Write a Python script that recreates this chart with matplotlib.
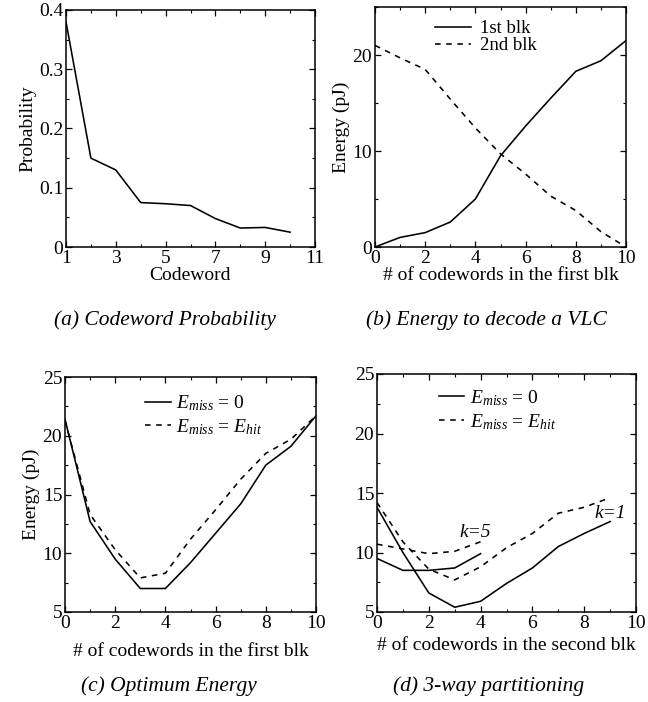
import numpy as np
import matplotlib
matplotlib.use("Agg")
import matplotlib.pyplot as plt
import matplotlib.ticker as mticker

plt.rcParams['font.family'] = ['Liberation Serif', 'DejaVu Serif']
plt.rcParams['mathtext.fontset'] = 'custom'
plt.rcParams['mathtext.rm'] = 'Liberation Serif'
plt.rcParams['mathtext.it'] = 'Liberation Serif:italic'
plt.rcParams['font.size'] = 14

# ===============================
# DATA
# ===============================

# (a) codeword probability
codeword = [1, 2, 3, 4, 5, 6, 7, 8, 9, 10]
prob = [0.38, 0.15, 0.13, 0.075, 0.073, 0.070, 0.048, 0.032, 0.033, 0.025]
codeword_ticks = [1, 3, 5, 7, 9, 11]

# (b) energy to decode a VLC
n_first = [0, 1, 2, 3, 4, 5, 6, 7, 8, 9, 10]
e_blk1 = [0.0, 1.0, 1.5, 2.6, 5.0, 9.5, 12.6, 15.5, 18.3, 19.4, 21.5]
e_blk2 = [21.0, 19.7, 18.5, 15.4, 12.4, 9.7, 7.6, 5.3, 3.8, 1.6, 0.0]

# (c) optimum energy
e_opt_nomiss = [21.4, 12.7, 9.5, 7.0, 7.0, 9.2, 11.7, 14.2, 17.5, 19.1, 21.7]
e_opt_miss = [21.3, 13.3, 10.3, 7.9, 8.3, 11.2, 13.7, 16.3, 18.5, 19.7, 21.7]

# (d) 3-way partitioning
n_second_k1 = [0, 1, 2, 3, 4, 5, 6, 7, 8, 9]
k1_nomiss = [13.8, 10.0, 6.6, 5.4, 5.9, 7.4, 8.7, 10.5, 11.6, 12.6]
k1_miss = [14.2, 10.9, 8.6, 7.7, 8.8, 10.4, 11.6, 13.3, 13.8, 14.6]
n_second_k5 = [0, 1, 2, 3, 4]
k5_nomiss = [9.5, 8.5, 8.5, 8.7, 9.9]
k5_miss = [10.7, 10.3, 9.9, 10.1, 10.9]

DASH = (0, (3.5, 3.5))
LW = 1.15
W, H = 648, 702


def place(left, right, top, bottom):
    return [left / W, 1 - bottom / H, (right - left) / W, (bottom - top) / H]


def style(ax):
    for s in ax.spines.values():
        s.set_linewidth(1.1)
    ax.tick_params(which='both', direction='in', top=True, right=True)
    ax.tick_params(which='major', length=4, width=0.9, pad=2, labelsize=14)
    ax.tick_params(which='minor', length=2.5, width=0.8)


fig = plt.figure(figsize=(6.48, 7.02), dpi=100)

# ---------- (a) ----------
ax = fig.add_axes(place(66, 315, 10, 247))
ax.plot(codeword, prob, color='black', lw=LW)
ax.set_xlim(1, 11)
ax.set_ylim(0, 0.4)
ax.set_xticks(codeword_ticks)
ax.xaxis.set_minor_locator(mticker.MultipleLocator(1))
ax.yaxis.set_major_locator(mticker.MultipleLocator(0.1))
ax.yaxis.set_minor_locator(mticker.MultipleLocator(0.05))
ax.yaxis.set_major_formatter(mticker.FuncFormatter(lambda v, _: "0" if v == 0 else f"{v:.1f}"))
ax.set_ylabel("Probability", labelpad=2)
ax.set_xlabel("Codeword", labelpad=0)
style(ax)

# ---------- (b) ----------
ax = fig.add_axes(place(375, 626, 7, 247))
ax.plot(n_first, e_blk1, color='black', lw=LW, label="1st blk")
ax.plot(n_first, e_blk2, color='black', lw=LW, ls=DASH, label="2nd blk")
ax.set_xlim(0, 10)
ax.set_ylim(0, 25)
ax.xaxis.set_major_locator(mticker.MultipleLocator(2))
ax.xaxis.set_minor_locator(mticker.MultipleLocator(1))
ax.yaxis.set_major_locator(mticker.MultipleLocator(10))
ax.yaxis.set_minor_locator(mticker.MultipleLocator(5))
ax.set_ylabel("Energy (pJ)", labelpad=2)
ax.set_xlabel("# of codewords in the first blk", labelpad=0)
ax.legend(loc='upper left', bbox_to_anchor=(0.24, 0.945), frameon=False,
          fontsize=13.5, handlelength=1.9, handletextpad=0.5,
          labelspacing=0.0, borderpad=0, borderaxespad=0)
style(ax)

# ---------- (c) ----------
ax = fig.add_axes(place(65, 316, 377, 612))
ax.plot(n_first, e_opt_nomiss, color='black', lw=LW, label=r"$E_{miss}$ = $\mathit{0}$")
ax.plot(n_first, e_opt_miss, color='black', lw=LW, ls=DASH, label=r"$E_{miss}$ = $E_{hit}$")
ax.set_xlim(0, 10)
ax.set_ylim(5, 25)
ax.xaxis.set_major_locator(mticker.MultipleLocator(2))
ax.xaxis.set_minor_locator(mticker.MultipleLocator(1))
ax.yaxis.set_major_locator(mticker.MultipleLocator(5))
ax.yaxis.set_minor_locator(mticker.MultipleLocator(2.5))
ax.set_ylabel("Energy (pJ)", labelpad=2)
ax.set_xlabel("# of codewords in the first blk", labelpad=8)
ax.legend(loc='upper left', bbox_to_anchor=(0.32, 0.93), frameon=False,
          fontsize=14, handlelength=1.3, handletextpad=0.3,
          labelspacing=0.2, borderpad=0, borderaxespad=0)
style(ax)

# ---------- (d) ----------
ax = fig.add_axes(place(377, 636, 374, 612))
ax.plot(n_second_k1, k1_nomiss, color='black', lw=LW, label=r"$E_{miss}$ = $\mathit{0}$")
ax.plot(n_second_k1, k1_miss, color='black', lw=LW, ls=DASH, label=r"$E_{miss}$ = $E_{hit}$")
ax.plot(n_second_k5, k5_nomiss, color='black', lw=LW)
ax.plot(n_second_k5, k5_miss, color='black', lw=LW, ls=DASH)
ax.text(3.8, 11.7, "k=5", style='italic', ha='center', va='center', fontsize=14)
ax.text(9.6, 13.3, "k=1", style='italic', ha='right', va='center', fontsize=14)
ax.set_xlim(0, 10)
ax.set_ylim(5, 25)
ax.xaxis.set_major_locator(mticker.MultipleLocator(2))
ax.xaxis.set_minor_locator(mticker.MultipleLocator(1))
ax.yaxis.set_major_locator(mticker.MultipleLocator(5))
ax.yaxis.set_minor_locator(mticker.MultipleLocator(2.5))
ax.set_xlabel("# of codewords in the second blk", labelpad=4)
ax.legend(loc='upper left', bbox_to_anchor=(0.24, 0.94), frameon=False,
          fontsize=14, handlelength=1.3, handletextpad=0.3,
          labelspacing=0.2, borderpad=0, borderaxespad=0)
style(ax)

# ---------- captions ----------
cap = dict(ha='center', va='center', style='italic', fontsize=15.5)
fig.text(165 / W, 1 - 320 / H, "(a) Codeword Probability", **cap)
fig.text(486 / W, 1 - 320 / H, "(b) Energy to decode a VLC", **cap)
fig.text(169 / W, 1 - 686 / H, "(c) Optimum Energy", **cap)
fig.text(489 / W, 1 - 686 / H, "(d) 3-way partitioning", **cap)

fig.savefig("out.png", dpi=100)
